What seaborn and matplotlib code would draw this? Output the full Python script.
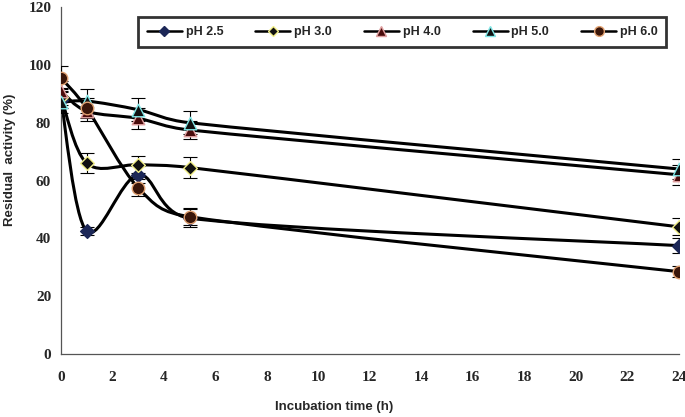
import numpy as np
import matplotlib
matplotlib.use("Agg")
import matplotlib.pyplot as plt
import seaborn as sns
from matplotlib.path import Path
from matplotlib.patches import PathPatch
from matplotlib.lines import Line2D

# residual activity (%) after incubation at each pH
hours = [0, 1, 3, 5, 24]
ph_labels = ["pH 2.5", "pH 3.0", "pH 4.0", "pH 5.0", "pH 6.0"]
ph25 = [88, 42.5, 62, 47, 37.5]
ph30 = [89, 66, 65.5, 64.5, 44]
ph40 = [91, 84, 81.5, 77.5, 62]
ph50 = [87, 87.5, 84.5, 80, 64]
ph60 = [95.5, 85, 57.5, 47.5, 28.5]
err25 = [3, 1.5, 3, 3, 2.5]
err30 = [3, 3.5, 3, 3.5, 3]
err40 = [3.5, 3.5, 3.5, 3, 3.5]
err50 = [3.5, 4, 4, 4, 3.5]
err60 = [4, 3.5, 3, 3, 2]

series = [ph25, ph30, ph40, ph50, ph60]
errors = [err25, err30, err40, err50, err60]
markers = ["D", "D", "^", "^", "o"]
faces = ["#1c2757", "#111111", "#4a0c0c", "#111111", "#3a160a"]
edges = ["#1c2757", "#f2ef8a", "#e0a0a0", "#7fe6e6", "#e0a070"]
msizes = [7, 7, 9, 9, 9]


def smooth_patch(ax, x, y, sx, sy):
    # Excel-like smoothed line (Catmull-Rom bezier in screen units)
    p = np.column_stack([np.asarray(x, float) * sx, np.asarray(y, float) * sy])
    n = len(p)
    verts = [p[0]]
    codes = [Path.MOVETO]
    for i in range(n - 1):
        p0, p1, p2, p3 = p[max(i - 1, 0)], p[i], p[i + 1], p[min(i + 2, n - 1)]
        seg = np.linalg.norm(p2 - p1)
        a = (p2 - p0) / 6
        b = (p3 - p1) / 6
        if np.linalg.norm(a) > seg / 2:
            a = a / np.linalg.norm(a) * seg / 2
        if np.linalg.norm(b) > seg / 2:
            b = b / np.linalg.norm(b) * seg / 2
        verts += [p1 + a, p2 - b, p2]
        codes += [Path.CURVE4] * 3
    verts = np.array(verts) / [sx, sy]
    ax.add_patch(PathPatch(Path(verts, codes), fill=False, lw=2.2,
                           edgecolor="black", zorder=2))


sns.set_style("white")
fig = plt.figure(figsize=(6.85, 4.17), dpi=100)
ax = fig.add_axes([0.089, 0.151, 0.902, 0.832])

sx, sy = 618 / 24, 347 / 120
handles = []
for vals, err, m, fc, ec, ms, lab in zip(series, errors, markers, faces, edges, msizes, ph_labels):
    smooth_patch(ax, hours, vals, sx, sy)
    ax.errorbar(hours, vals, yerr=err, fmt="none", ecolor="black",
                elinewidth=0.8, capsize=5, capthick=0.8, zorder=3)
    sns.scatterplot(x=hours, y=vals, marker=m, s=ms ** 2, color=fc,
                    edgecolor=ec, linewidth=1.0, zorder=4, ax=ax, legend=False)
    handles.append(Line2D([], [], color="black", lw=1.8, marker=m,
                          markersize=ms - 2, markerfacecolor=fc,
                          markeredgecolor=ec, label=lab))

ax.set_xlim(0, 24)
ax.set_ylim(0, 120)
ax.set_xticks(range(0, 25, 2))
ax.set_yticks(range(0, 121, 20))
for s in ["top", "right"]:
    ax.spines[s].set_visible(False)
for s in ["left", "bottom"]:
    ax.spines[s].set_color("#555555")
    ax.spines[s].set_linewidth(0.9)
ax.tick_params(axis="x", direction="in", length=5, width=0.9, color="#555555", pad=12)
ax.tick_params(axis="y", direction="out", length=5, width=0.9, color="#555555", pad=2)
for t in ax.get_xticklabels() + ax.get_yticklabels():
    t.set_fontfamily("Liberation Serif")
    t.set_fontweight("bold")
    t.set_fontsize(11)

ax.set_xlabel("Incubation time (h)", fontsize=9.5, fontweight="bold",
              family="Liberation Sans")
ax.set_ylabel("Residual  activity (%)", fontsize=9.5, fontweight="bold",
              family="Liberation Sans")
ax.xaxis.set_label_coords(0.442, -0.135)
ax.yaxis.set_label_coords(-0.073, 0.559)

leg = ax.legend(handles=handles, ncol=5, loc="lower left",
                bbox_to_anchor=(0.125, 0.885, 0.855, 0.092), mode="expand",
                frameon=True, fancybox=False, handlelength=2.8,
                handletextpad=0.3, borderaxespad=0, borderpad=0.7,
                prop={"weight": "bold", "size": 9, "family": "Liberation Sans"})
leg.get_frame().set_edgecolor("black")
leg.get_frame().set_linewidth(2)

fig.savefig("out.png", dpi=100)
